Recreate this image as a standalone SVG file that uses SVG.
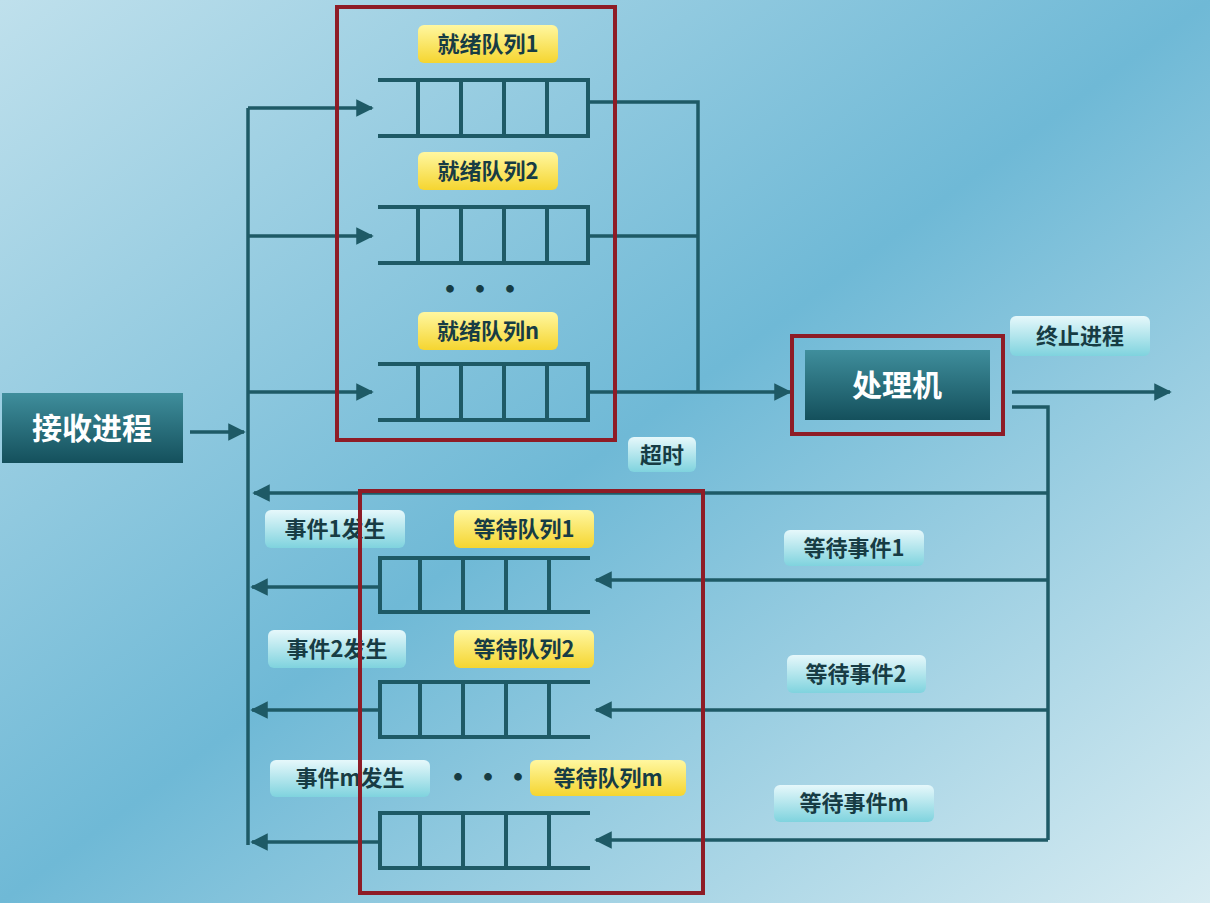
<svg xmlns="http://www.w3.org/2000/svg" width="1210" height="903" viewBox="0 0 1210 903">
<defs>
<linearGradient id="bg" x1="0" y1="0" x2="1" y2="1"><stop offset="0" stop-color="#bfe0ec"/><stop offset="0.5" stop-color="#6fb9d6"/><stop offset="1" stop-color="#d8ecf2"/></linearGradient>
<linearGradient id="yl" x1="0" y1="0" x2="0" y2="1"><stop offset="0" stop-color="#fff7a0"/><stop offset="1" stop-color="#f5d530"/></linearGradient>
<linearGradient id="cy" x1="0" y1="0" x2="0" y2="1"><stop offset="0" stop-color="#e6f8fb"/><stop offset="1" stop-color="#7fd3de"/></linearGradient>
<linearGradient id="dk" x1="0" y1="0" x2="0" y2="1"><stop offset="0" stop-color="#3f8e9c"/><stop offset="1" stop-color="#14505c"/></linearGradient>
<marker id="ah" viewBox="0 0 10 10" refX="9" refY="5" markerWidth="5" markerHeight="5" orient="auto"><path d="M0,0L10,5L0,10z" fill="#1e5a66"/></marker>
</defs>
<style>
.ln{stroke:#1e5a66;stroke-width:3.5;fill:none}
.q{stroke:#1e5a66;stroke-width:4;fill:none}
.red{stroke:#8e1c26;stroke-width:4;fill:none}
.t{font-family:"Noto Sans CJK SC","Liberation Sans",sans-serif;font-weight:bold;font-size:22px;fill:#173c44;text-anchor:middle}
.w{fill:#fff;font-size:30px}
</style>
<rect width="1210" height="903" fill="url(#bg)"/>
<g id="connectors">
<path class="ln" d="M248,108V845"/>
<path class="ln" d="M248,108H372" marker-end="url(#ah)"/>
<path class="ln" d="M248,236H372" marker-end="url(#ah)"/>
<path class="ln" d="M248,392H372" marker-end="url(#ah)"/>
<path class="ln" d="M190,432H244" marker-end="url(#ah)"/>
<path class="ln" d="M588,102H698V392M588,236H698M588,392H790" marker-end="url(#ah)"/>
<path class="ln" d="M1012,392H1170" marker-end="url(#ah)"/>
<path class="ln" d="M1012,407H1048V840"/>
<path class="ln" d="M1048,493H254" marker-end="url(#ah)"/>
<path class="ln" d="M1048,580H596" marker-end="url(#ah)"/>
<path class="ln" d="M1048,710H596" marker-end="url(#ah)"/>
<path class="ln" d="M1048,840H596" marker-end="url(#ah)"/>
<path class="ln" d="M380,587H252" marker-end="url(#ah)"/>
<path class="ln" d="M380,710H252" marker-end="url(#ah)"/>
<path class="ln" d="M380,842H252" marker-end="url(#ah)"/>
</g>
<g id="ready1"><path class="q" d="M378,80H588V136H378M418,80V136M461,80V136M504,80V136M547,80V136"/><rect x="418" y="25" width="140" height="38" rx="6" fill="url(#yl)"/><text class="t" x="488" y="52">就绪队列1</text></g>
<g id="ready2"><path class="q" d="M378,207H588V263H378M418,207V263M461,207V263M504,207V263M547,207V263"/><rect x="418" y="152" width="140" height="38" rx="6" fill="url(#yl)"/><text class="t" x="488" y="179">就绪队列2</text></g>
<g id="readyn"><path class="q" d="M378,364H588V420H378M418,364V420M461,364V420M504,364V420M547,364V420"/><rect x="418" y="312" width="140" height="38" rx="6" fill="url(#yl)"/><text class="t" x="488" y="339">就绪队列n</text><text class="t" x="480" y="300" style="font-size:30px">···</text></g>
<g id="wait1"><path class="q" d="M590,558H380V612H590M420,558V612M463,558V612M506,558V612M549,558V612"/><rect x="454" y="510" width="140" height="38" rx="6" fill="url(#yl)"/><text class="t" x="524" y="537">等待队列1</text></g>
<g id="wait2"><path class="q" d="M590,682H380V737H590M420,682V737M463,682V737M506,682V737M549,682V737"/><rect x="454" y="630" width="140" height="38" rx="6" fill="url(#yl)"/><text class="t" x="524" y="657">等待队列2</text></g>
<g id="waitm"><path class="q" d="M590,813H380V868H590M420,813V868M463,813V868M506,813V868M549,813V868"/><rect x="530" y="760" width="156" height="36" rx="6" fill="url(#yl)"/><text class="t" x="608" y="786">等待队列m</text><text class="t" x="488" y="788" style="font-size:30px">···</text></g>
<g id="recv"><rect x="2" y="393" width="181" height="70" fill="url(#dk)"/><text class="t w" x="92" y="439">接收进程</text></g>
<g id="cpu"><rect x="805" y="350" width="185" height="70" fill="url(#dk)"/><text class="t w" x="897" y="396">处理机</text><rect class="red" x="792" y="336" width="211" height="98"/></g>
<g id="labels">
<rect x="265" y="510" width="140" height="38" rx="6" fill="url(#cy)"/><text class="t" x="335" y="537">事件1发生</text>
<rect x="268" y="630" width="138" height="38" rx="6" fill="url(#cy)"/><text class="t" x="337" y="657">事件2发生</text>
<rect x="270" y="760" width="160" height="37" rx="6" fill="url(#cy)"/><text class="t" x="350" y="786">事件m发生</text>
<rect x="784" y="530" width="140" height="36" rx="6" fill="url(#cy)"/><text class="t" x="854" y="556">等待事件1</text>
<rect x="787" y="655" width="139" height="38" rx="6" fill="url(#cy)"/><text class="t" x="856" y="682">等待事件2</text>
<rect x="774" y="785" width="160" height="37" rx="6" fill="url(#cy)"/><text class="t" x="854" y="811">等待事件m</text>
<rect x="628" y="437" width="68" height="35" rx="6" fill="url(#cy)"/><text class="t" x="662" y="463">超时</text>
<rect x="1010" y="316" width="140" height="40" rx="6" fill="url(#cy)"/><text class="t" x="1080" y="344">终止进程</text>
</g>
<rect class="red" x="337" y="7" width="278" height="433"/>
<rect class="red" x="360" y="491" width="343" height="402"/>
</svg>
